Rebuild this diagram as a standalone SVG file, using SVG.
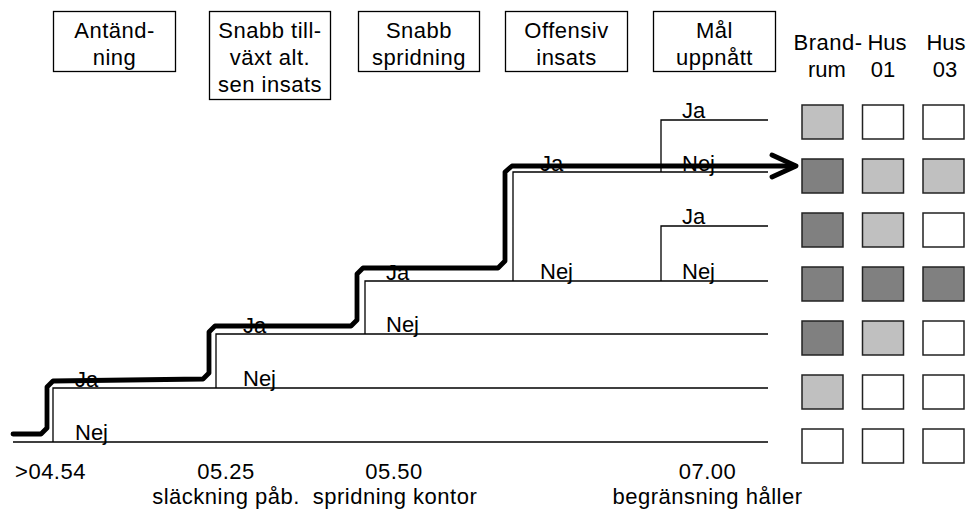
<svg xmlns="http://www.w3.org/2000/svg" width="969" height="516" viewBox="0 0 969 516">
<style>
text{font-family:"Liberation Sans",Arial,sans-serif;font-size:22px;fill:#000}
.c{text-anchor:middle}
.s{letter-spacing:0.5px}
.box{fill:#fff;stroke:#000;stroke-width:1.3}
.thin{fill:none;stroke:#000;stroke-width:1.3}
.sq{stroke:#222;stroke-width:1.5}
.w{fill:#fff}.l{fill:#c0c0c0}.d{fill:#808080}
.thick{fill:none;stroke:#000;stroke-width:4.8;stroke-linejoin:round;stroke-linecap:round}
</style>
<rect width="969" height="516" fill="#fff"/>
<g id="header-antandning"><rect class="box" x="53.5" y="11.5" width="122" height="60"/><text class="c s" x="114.5" y="38">Antänd-</text><text class="c s" x="114.5" y="65">ning</text></g>
<g id="header-snabb-tillvaxt"><rect class="box" x="209.5" y="11.5" width="121" height="88"/><text class="c s" x="270" y="38">Snabb till-</text><text class="c s" x="270" y="65">växt alt.</text><text class="c s" x="270" y="92">sen insats</text></g>
<g id="header-snabb-spridning"><rect class="box" x="358.5" y="11.5" width="121" height="60"/><text class="c s" x="419" y="38">Snabb</text><text class="c s" x="419" y="65">spridning</text></g>
<g id="header-offensiv"><rect class="box" x="505.5" y="11.5" width="122" height="60"/><text class="c s" x="566.5" y="38">Offensiv</text><text class="c s" x="566.5" y="65">insats</text></g>
<g id="header-mal"><rect class="box" x="653.5" y="11.5" width="122" height="60"/><text class="c s" x="714.5" y="38">Mål</text><text class="c s" x="714.5" y="65">uppnått</text></g>
<g id="col-headers"><text class="c s" x="828" y="50">Brand-</text><text class="c" x="827" y="77">rum</text><text class="c" x="887" y="50">Hus</text><text class="c" x="883" y="77">01</text><text class="c" x="946" y="50">Hus</text><text class="c" x="945" y="77">03</text></g>
<g id="labels">
<text x="75" y="440">Nej</text>
<text x="75" y="387">Ja</text>
<text x="243" y="386">Nej</text>
<text x="243" y="333">Ja</text>
<text x="386" y="332">Nej</text>
<text x="386" y="280">Ja</text>
<text x="540" y="279">Nej</text>
<text x="540" y="171">Ja</text>
<text x="682" y="171">Nej</text>
<text x="682" y="118">Ja</text>
<text x="682" y="224">Ja</text>
<text x="682" y="279">Nej</text>
</g>
<g id="connectors">
<path class="thin" d="M13 442H768M53 442V388H768M216 388V334H768M365 334V281H768M513 281V172H768M661 172V120H768M661 281V226H768"/>
<path class="thick" d="M13 434H41L47 428V387L53 381L203 379L209 373V332L215 326H351L357 320V274L363 268H498L505 261V172L512 166H795"/>
<path class="thick" d="M772 155L796 166L772 177"/>
</g>
<g id="times">
<text class="c s" x="50.5" y="479">&gt;04.54</text>
<text class="c s" x="226" y="479">05.25</text>
<text class="c s" x="394" y="479">05.50</text>
<text class="c s" x="707.5" y="479">07.00</text>
<text class="c s" x="226" y="504">släckning påb.</text>
<text class="c s" x="395" y="504">spridning kontor</text>
<text class="c s" x="707.5" y="504">begränsning håller</text>
</g>
<g id="grid">
<rect class="sq l" x="802" y="105" width="41" height="34"/><rect class="sq w" x="862.5" y="105" width="41" height="34"/><rect class="sq w" x="923" y="105" width="41" height="34"/>
<rect class="sq d" x="802" y="159" width="41" height="34"/><rect class="sq l" x="862.5" y="159" width="41" height="34"/><rect class="sq l" x="923" y="159" width="41" height="34"/>
<rect class="sq d" x="802" y="213" width="41" height="34"/><rect class="sq l" x="862.5" y="213" width="41" height="34"/><rect class="sq w" x="923" y="213" width="41" height="34"/>
<rect class="sq d" x="802" y="267" width="41" height="34"/><rect class="sq d" x="862.5" y="267" width="41" height="34"/><rect class="sq d" x="923" y="267" width="41" height="34"/>
<rect class="sq d" x="802" y="321" width="41" height="34"/><rect class="sq l" x="862.5" y="321" width="41" height="34"/><rect class="sq w" x="923" y="321" width="41" height="34"/>
<rect class="sq l" x="802" y="375" width="41" height="34"/><rect class="sq w" x="862.5" y="375" width="41" height="34"/><rect class="sq w" x="923" y="375" width="41" height="34"/>
<rect class="sq w" x="802" y="429" width="41" height="34"/><rect class="sq w" x="862.5" y="429" width="41" height="34"/><rect class="sq w" x="923" y="429" width="41" height="34"/>
</g>
</svg>
